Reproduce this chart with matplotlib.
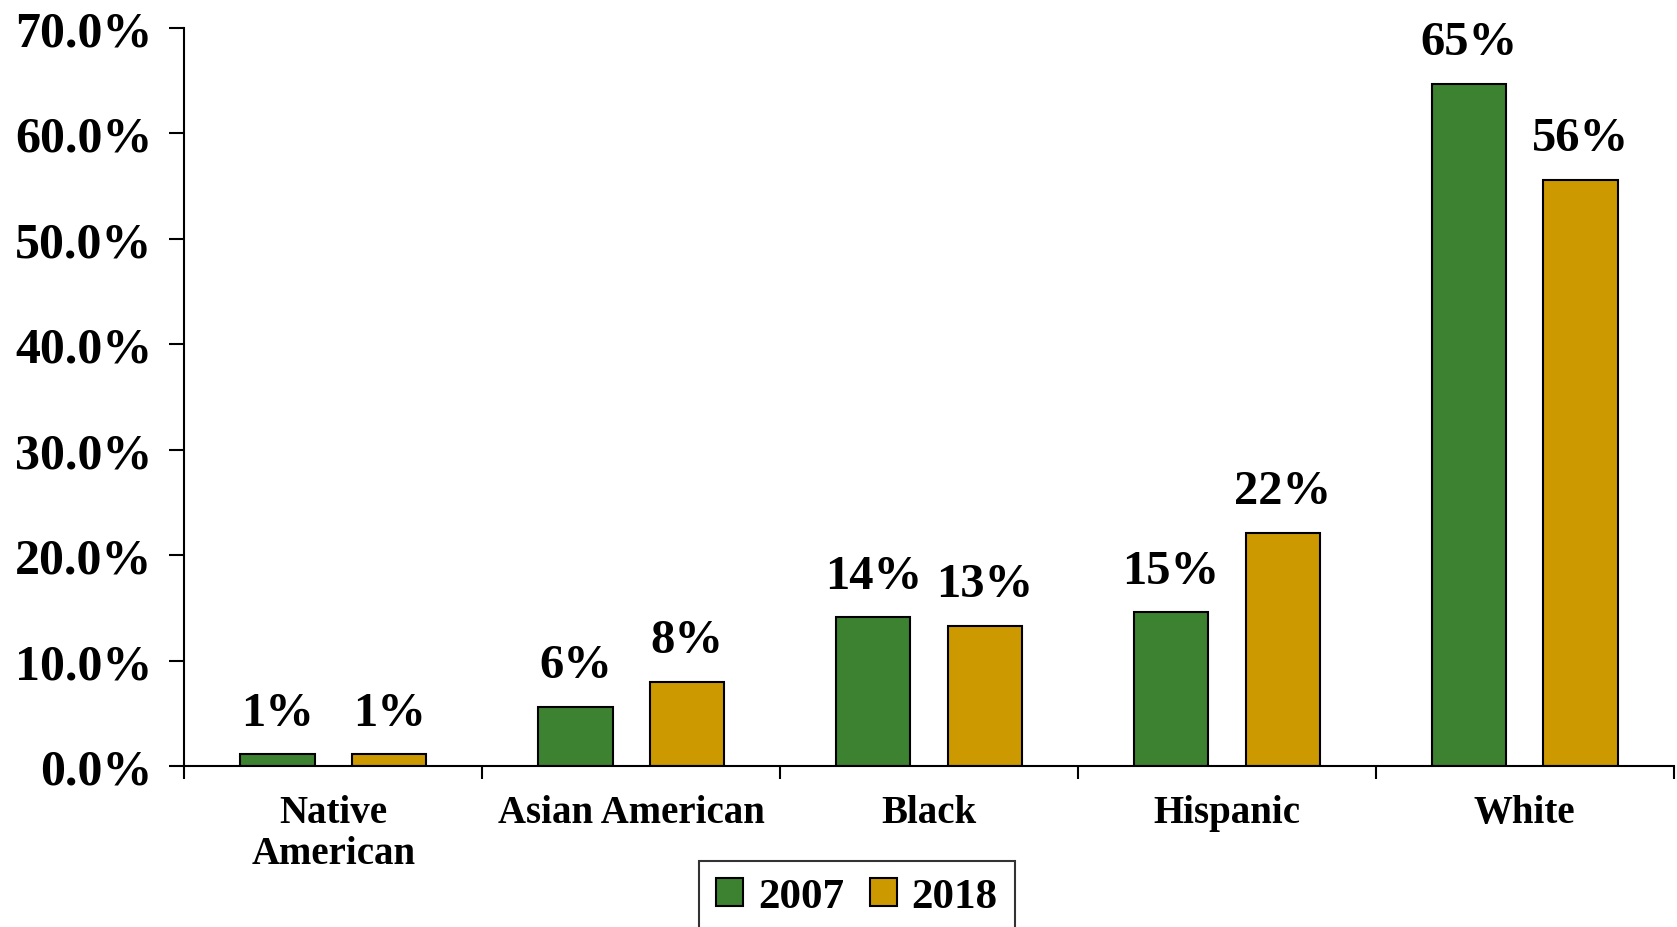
import numpy as np
import matplotlib.pyplot as plt

# data
categories = ["Native\nAmerican", "Asian American", "Black", "Hispanic", "White"]
share_2007 = [1.1, 5.6, 14.1, 14.6, 64.7]
share_2018 = [1.1, 8.0, 13.3, 22.1, 55.6]
labels_2007 = ["1%", "6%", "14%", "15%", "65%"]
labels_2018 = ["1%", "8%", "13%", "22%", "56%"]

green = "#3d8231"
gold = "#cc9900"

plt.rcParams['font.family'] = ['Liberation Serif', 'DejaVu Serif']
plt.rcParams['font.weight'] = 'bold'

fig = plt.figure(figsize=(16.77, 9.28), dpi=100)
ax = fig.add_axes([0.110, 0.1735, 0.888, 0.7955])

x = np.arange(len(categories))
w = 0.25
b1 = ax.bar(x - 0.1875, share_2007, w, color=green, edgecolor="black", linewidth=1.5, label="2007")
b2 = ax.bar(x + 0.1875, share_2018, w, color=gold, edgecolor="black", linewidth=1.5, label="2018")

for bars, labs in ((b1, labels_2007), (b2, labels_2018)):
  for r, lab in zip(bars, labs):
    ax.annotate(lab, (r.get_x() + r.get_width() / 2, r.get_height()),
                xytext=(0, 14), textcoords="offset points",
                ha="center", va="bottom", fontsize=35, fontweight="bold")

ax.set_ylim(0, 70)
ax.set_yticks(np.arange(0, 71, 10))
ax.set_yticklabels(["%.1f%%" % v for v in np.arange(0, 71, 10)])
ax.set_xlim(-0.5, 4.5)
ax.set_xticks(x)
ax.set_xticklabels(categories, fontsize=28, linespacing=1.15)
ax.set_xticks(np.arange(-0.5, 4.6, 1), minor=True)
ax.tick_params(axis="x", which="major", length=0, pad=20)
ax.tick_params(axis="x", which="minor", length=9, width=1.5, direction="out")
ax.tick_params(axis="y", length=11, width=1.5, labelsize=36, pad=12)

for s in ("top", "right"):
  ax.spines[s].set_visible(False)
for s in ("left", "bottom"):
  ax.spines[s].set_linewidth(1.5)

leg = fig.legend(handles=[b1, b2], loc="upper center", bbox_to_anchor=(0.511, 0.071),
                 ncol=2, fontsize=31, frameon=True, fancybox=False,
                 handlelength=0.62, handleheight=0.6, handletextpad=0.35,
                 columnspacing=0.6, borderpad=0.4, borderaxespad=0.0)
leg.get_frame().set_edgecolor("black")
leg.get_frame().set_linewidth(1.5)

plt.savefig("out.png", dpi=100)
